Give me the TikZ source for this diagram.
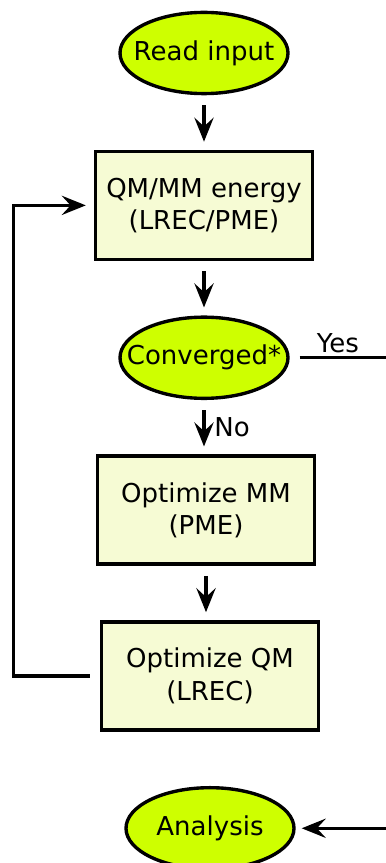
\documentclass[tikz,border=0pt]{standalone}
\usepackage{fontspec}
\setmainfont{DejaVu Sans}
\usetikzlibrary{arrows.meta,positioning,shapes.geometric}
\definecolor{termlime}{RGB}{206,255,0}
\definecolor{boxcream}{RGB}{246,251,212}

\begin{document}
\begin{tikzpicture}[node distance=1.36cm, line width=2.4pt,
        term/.style={ellipse,draw,fill=termlime,minimum width=4.2cm,minimum height=2.03cm,
          inner xsep=-0.5cm,inner ysep=0pt,font=\fontsize{18.5}{23}\selectfont},
        box/.style={rectangle,draw,fill=boxcream,minimum width=5.425cm,minimum height=2.7cm,
          align=center,font=\fontsize{18.5}{23}\selectfont},
        tip/.style={-{Stealth[length=6mm,width=4.8mm,inset=2.2mm]}},
        arrow/.style={tip,shorten <=0.25cm,shorten >=0.2cm}]
        \useasboundingbox (0,0) rectangle (9.65,-21.575);
        \node[term] (read) at (5.1,-1.325) {Read input};
        \node[box,below=of read] (energy) {QM/MM energy\\(LREC/PME)};
        \node[term,below=of energy] (conv) {Converged*};
        \node[box,below=of conv,xshift=0.05cm] (optmm) {Optimize MM\\(PME)};
        \node[box,below=of optmm,xshift=0.1cm] (optqm) {Optimize QM\\(LREC)};
        \node[term,below=of optqm] (ana) {Analysis};
        \coordinate (redge) at (9.65,0);
        \coordinate (ledge) at (0.33,0);
        \draw[arrow] (read) -- (energy);
        \draw[arrow] (energy) -- (conv);
        \draw[arrow] (conv.south) -- node[right,xshift=0.1cm,font=\fontsize{18.5}{23}\selectfont] {No} (conv.south |- optmm.north);
        \draw[arrow] (optmm.south) -- (optmm.south |- optqm.north);
        \draw[arrow] (optqm.west) -- (optqm.west -| ledge) |- (energy.west);
        \draw[shorten <=0.25cm] (conv.east) -- node[above,inner sep=2pt,font=\fontsize{18.5}{23}\selectfont] {Yes} (conv -| redge);
        \draw[tip,shorten >=0.15cm] (ana -| redge) -- (ana.east);
      \end{tikzpicture}
\end{document}
